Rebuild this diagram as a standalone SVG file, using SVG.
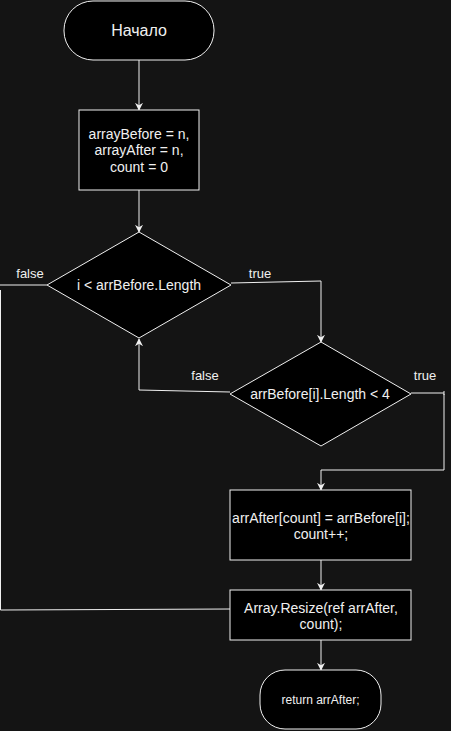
<svg xmlns="http://www.w3.org/2000/svg" width="451" height="731" viewBox="0 0 451 731">
<style>
.shape{fill:#000000;stroke:#f0f0f0;stroke-width:1}
.edge{fill:none;stroke:#f0f0f0;stroke-width:1}
text{font-family:"Liberation Sans",Arial,sans-serif;fill:#f0f0f0;text-anchor:middle;dominant-baseline:central}
.t14{font-size:14px}
.lbl{font-size:13px}
</style>
<defs>
<marker id="arr" viewBox="0 0 10 10" refX="9" refY="5" markerWidth="8" markerHeight="8" markerUnits="userSpaceOnUse" orient="auto">
<path d="M0,0 L10,5 L0,10 L3,5 Z" fill="#f0f0f0" stroke="none"/>
</marker>
</defs>
<rect width="451" height="731" fill="#141414"/>
<g id="connectors">
<path class="edge" d="M139,60 L139,110" marker-end="url(#arr)"/>
<path class="edge" d="M139,190 L139,232" marker-end="url(#arr)"/>
<path class="edge" d="M231,283 L321,281 L321,342" marker-end="url(#arr)"/>
<path class="edge" d="M230,392 L139,390 L139,339" marker-end="url(#arr)"/>
<path class="edge" d="M411,393 L444,393"/>
<path class="edge" d="M444,391 L444,395"/>
<path class="edge" d="M444,394 L444,470 L321,470 L321,490" marker-end="url(#arr)"/>
<path class="edge" d="M47,285 L0,285"/>
<path class="edge" d="M0.5,290 L0.5,610 L230,609"/>
<path class="edge" d="M321,560 L321,590" marker-end="url(#arr)"/>
<path class="edge" d="M321,640 L321,670" marker-end="url(#arr)"/>
<text class="lbl" x="30" y="273">false</text>
<text class="lbl" x="260" y="273">true</text>
<text class="lbl" x="205" y="375">false</text>
<text class="lbl" x="425" y="375">true</text>
</g>
<g id="start">
<rect class="shape" x="64" y="1" width="150" height="59" rx="29" ry="29"/>
<text x="139" y="30.5" style="font-size:16px">Начало</text>
</g>
<g id="init">
<rect class="shape" x="79" y="110" width="120" height="80"/>
<text class="t14" x="139" y="134">arrayBefore = n,</text>
<text class="t14" x="139" y="150">arrayAfter = n,</text>
<text class="t14" x="139" y="167">count = 0</text>
</g>
<g id="cond1">
<path class="shape" d="M139,232 L231,285 L139,338 L47,285 Z"/>
<text class="t14" x="139" y="285">i &lt; arrBefore.Length</text>
</g>
<g id="cond2">
<path class="shape" d="M321,342 L411,394 L321,446 L230,394 Z"/>
<text class="t14" x="320" y="394">arrBefore[i].Length &lt; 4</text>
</g>
<g id="assign">
<rect class="shape" x="230" y="490" width="181" height="70"/>
<text class="t14" x="321" y="518">arrAfter[count] = arrBefore[i];</text>
<text class="t14" x="321" y="534">count++;</text>
</g>
<g id="resize">
<rect class="shape" x="230" y="590" width="181" height="50"/>
<text class="t14" x="321" y="608">Array.Resize(ref arrAfter,</text>
<text class="t14" x="321" y="624">count);</text>
</g>
<g id="end">
<rect class="shape" x="260" y="670" width="121" height="59" rx="25" ry="25"/>
<text x="320.5" y="700" style="font-size:12px">return arrAfter;</text>
</g>
</svg>
